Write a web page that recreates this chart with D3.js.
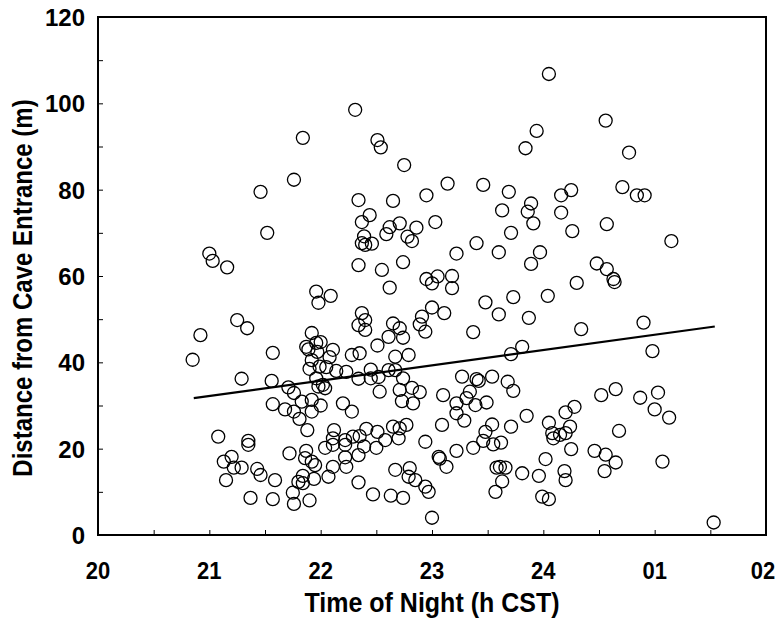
<!DOCTYPE html>
<html>
<head>
<meta charset="utf-8">
<script src="https://cdn.jsdelivr.net/npm/d3@7"></script>
<style>
  html, body { margin: 0; padding: 0; background: #fff; }
  svg { display: block; }
  text { font-family: "Liberation Sans", Arial, sans-serif; font-weight: bold; fill: #000; }
</style>
</head>
<body>
<svg id="chart" width="776" height="621"></svg>
<script>
// ---- data ----
const timeHours = [
21.00,21.03,21.16,21.46,21.52,21.76,21.84,20.92,20.85,21.25,21.34,21.57,21.29,21.56,21.71,21.76,21.57,21.68,21.76,21.83,
21.92,21.81,21.92,21.88,21.08,21.35,21.35,21.72,21.87,21.86,21.92,21.95,21.13,21.20,21.22,21.29,21.43,21.46,21.15,21.59,
21.84,21.80,21.84,21.94,21.75,21.37,21.57,21.76,21.90,
21.96,21.98,22.09,22.37,22.40,22.34,22.40,22.51,21.92,22.00,21.96,21.87,21.89,22.11,22.08,21.97,22.28,22.35,21.92,21.90,
21.99,22.05,22.14,22.23,22.45,22.34,22.45,22.52,21.96,22.02,21.98,22.04,22.00,22.20,22.28,22.53,
22.31,22.51,22.54,22.75,23.14,22.34,22.65,22.95,22.44,22.37,22.71,22.62,22.59,22.86,23.03,22.78,22.82,22.39,22.40,22.46,
22.37,23.22,22.34,22.55,22.74,22.95,23.05,23.18,22.62,23.00,23.18,23.00,23.11,22.91,22.89,22.94,22.65,22.71,22.74,22.61,
22.79,22.67,22.61,22.67,22.74,22.71,22.82,22.89,22.73,22.83,23.10,23.27,23.22,23.22,23.29,22.65,22.71,22.77,22.70,23.09,
22.94,22.51,22.41,22.58,22.50,22.35,22.29,22.39,22.12,22.11,22.11,22.22,22.22,22.04,22.22,22.23,22.11,22.34,22.07,23.06,
23.07,23.13,23.22,22.67,22.80,22.79,22.85,22.94,22.97,22.34,22.47,22.63,22.74,23.00,
24.05,24.56,23.94,23.84,23.46,23.69,24.16,24.25,23.89,23.86,23.63,24.16,23.91,23.71,24.26,24.57,23.40,23.60,23.97,23.89,
24.48,24.57,24.30,24.63,24.64,24.04,23.73,23.48,23.60,23.87,23.37,24.34,23.81,23.71,23.40,23.42,23.54,23.68,23.73,23.34,
23.31,23.39,23.49,23.85,24.20,24.28,24.05,24.24,23.54,23.71,23.48,23.46,23.55,23.62,23.37,24.08,24.09,24.15,24.20,24.25,
24.02,24.46,24.56,24.55,23.58,23.61,23.66,23.63,23.57,23.81,23.96,24.19,24.20,23.99,24.05,
24.77,24.71,24.84,24.91,25.15,24.90,24.98,24.65,24.52,24.87,25.03,25.00,25.13,24.68,24.65,25.07,25.53
];
const distanceM = [
65.2,63.5,62.0,79.5,70.0,82.3,92.0,46.3,40.6,49.8,47.9,42.2,36.2,35.7,34.2,32.9,30.3,29.1,28.6,30.9,
31.3,26.9,28.6,24.3,22.8,21.8,20.9,18.9,19.5,17.8,17.0,16.2,17.0,18.1,15.6,15.6,15.3,13.9,12.7,12.7,
13.7,12.3,12.0,13.0,9.8,8.6,8.3,7.2,8.0,
56.4,53.8,55.4,51.4,49.8,48.6,47.5,43.9,46.8,44.7,44.5,43.6,43.0,42.9,41.2,42.4,41.7,42.1,40.5,38.5,
39.0,38.9,38.0,37.8,38.3,36.2,36.3,36.6,36.3,34.8,34.4,34.0,30.0,30.5,28.6,33.2,
98.5,91.5,89.8,85.7,81.4,77.6,77.4,78.7,74.1,72.5,72.2,71.3,69.7,71.2,72.5,69.1,68.1,69.2,67.2,67.5,
67.6,65.2,62.5,61.4,63.2,59.3,59.9,60.0,57.3,58.3,57.2,52.7,51.4,50.6,48.8,47.1,49.0,47.9,45.7,45.9,
41.7,41.3,38.2,38.2,36.3,33.6,34.1,33.1,31.0,30.5,32.4,36.7,30.5,28.2,26.5,25.1,24.7,25.5,22.4,25.5,
21.6,23.9,24.6,22.0,20.2,22.9,22.8,20.5,24.3,22.4,20.9,22.0,20.9,20.2,18.0,15.8,15.8,18.5,13.5,18.1,
17.7,15.8,19.5,15.1,15.5,13.5,12.7,11.2,10.0,12.2,9.4,9.1,8.6,4.0,
106.8,96.0,93.6,89.6,81.1,79.5,78.7,79.9,76.8,74.9,75.2,74.7,72.2,70.0,70.4,72.0,67.6,65.5,65.5,62.8,
62.9,61.6,58.4,59.3,58.6,55.4,55.1,53.9,51.1,50.3,47.0,47.7,43.6,41.9,36.1,35.7,36.7,35.5,33.4,33.2,
31.7,30.1,30.7,27.6,28.4,29.7,26.0,25.1,25.6,25.1,23.9,21.8,21.0,21.4,20.2,23.6,22.4,23.2,23.6,19.9,
17.6,19.5,18.6,14.8,15.6,15.8,15.6,12.4,10.0,14.3,13.7,14.8,12.7,8.9,8.3,
88.6,80.6,78.7,78.7,68.1,49.2,42.6,33.8,32.4,31.8,33.0,29.1,27.2,24.1,16.8,17.0,2.9
];
const trendX = [20.86, 25.54];
const trendY = [31.7, 48.3];
const xTickValues = [20, 21, 22, 23, 24, 25, 26];
const xTickLabels = ["20", "21", "22", "23", "24", "01", "02"];
const yTickValues = [0, 20, 40, 60, 80, 100, 120];

// ---- layout ----
const W = 776;
const svg = d3.select("#chart");
const L = 98, R = 766, T = 17, B = 535;
const x = d3.scaleLinear().domain([20, 26]).range([L, R]);
const y = d3.scaleLinear().domain([0, 120]).range([B, T]);

// inward ticks through d3 axes
const xAxis = d3.axisTop(x).tickValues(d3.range(20.5, 26, 0.5)).tickSize(5).tickFormat("");
const gx = svg.append("g").attr("transform", `translate(0,${B})`).call(xAxis);
gx.select(".domain").remove();
gx.selectAll("line").attr("stroke", "#000").attr("stroke-width", 1);

const yAxis = d3.axisRight(y).tickValues(d3.range(10, 120, 10)).tickSize(5).tickFormat("");
const gy = svg.append("g").attr("transform", `translate(${L},0)`).call(yAxis);
gy.select(".domain").remove();
gy.selectAll("line").attr("stroke", "#000").attr("stroke-width", 1);

// tick labels
svg.append("g").selectAll("text").data(xTickValues).join("text")
  .attr("transform", d => `translate(${Math.min(x(d), W - 13)},579) scale(1,1.12)`)
  .attr("text-anchor", "middle").style("font-size", "22px")
  .text((d, i) => xTickLabels[i]);
svg.append("g").selectAll("text").data(yTickValues).join("text")
  .attr("transform", d => `translate(85,${y(d) + 9})`)
  .attr("text-anchor", "end").style("font-size", "24px")
  .text(d => d);

// frame
svg.append("rect").attr("x", L).attr("y", T).attr("width", R - L).attr("height", B - T)
  .attr("fill", "none").attr("stroke", "#000").attr("stroke-width", 2);

// points
const pts = timeHours.map((t, i) => ({ t, d: distanceM[i] }));
svg.append("g").selectAll("circle").data(pts).join("circle")
  .attr("cx", p => x(p.t)).attr("cy", p => y(p.d)).attr("r", 6.5)
  .attr("fill", "none").attr("stroke", "#000").attr("stroke-width", 1.3);

// trend line
const line = d3.line().x(d => x(d[0])).y(d => y(d[1]));
svg.append("path").datum(trendX.map((v, i) => [v, trendY[i]]))
  .attr("d", line).attr("fill", "none").attr("stroke", "#000").attr("stroke-width", 2.2);

// titles
svg.append("text").attr("transform", `translate(432,612) scale(1,1.1)`).attr("text-anchor", "middle")
  .style("font-size", "25px").text("Time of Night (h CST)");
svg.append("text").attr("transform", `translate(32,288) rotate(-90) scale(1,1.12)`)
  .attr("text-anchor", "middle").style("font-size", "24px").text("Distance from Cave Entrance (m)");
</script>
</body>
</html>
